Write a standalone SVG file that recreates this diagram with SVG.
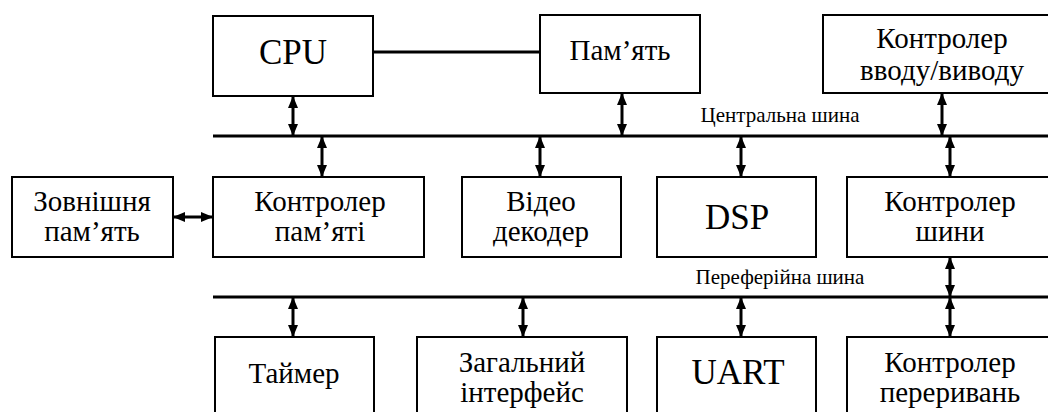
<svg xmlns="http://www.w3.org/2000/svg" width="1048" height="412" viewBox="0 0 1048 412">
<style>
.box{fill:#fff;stroke:#000;stroke-width:2}
.t{fill:#000;text-anchor:middle}
.bus{stroke:#000;stroke-width:3;fill:none}
.ar{stroke:#000;stroke-width:3;fill:none;marker-start:url(#ah);marker-end:url(#ah)}
</style>
<defs>
<marker id="ah" markerUnits="userSpaceOnUse" markerWidth="12" markerHeight="10" refX="11" refY="5" orient="auto-start-reverse" viewBox="0 0 12 10">
<path d="M0,0 L12,5 L0,10 z" fill="#000"/>
</marker>
</defs>
<g font-family="'Liberation Serif', 'Times New Roman', Tinos, 'DejaVu Serif', serif" font-size="29">
<g id="connectors">
<line class="bus" x1="373" y1="52" x2="540" y2="52"/>
<line class="bus" id="central-bus" x1="213" y1="136" x2="1048" y2="136"/>
<line class="bus" id="peripheral-bus" x1="213" y1="297" x2="1048" y2="297"/>
<line class="ar" x1="293" y1="97" x2="293" y2="135"/>
<line class="ar" x1="622" y1="94" x2="622" y2="135"/>
<line class="ar" x1="942" y1="94" x2="942" y2="135"/>
<line class="ar" x1="322" y1="137" x2="322" y2="176"/>
<line class="ar" x1="540" y1="137" x2="540" y2="176"/>
<line class="ar" x1="741" y1="137" x2="741" y2="176"/>
<line class="ar" x1="950" y1="137" x2="950" y2="176"/>
<line class="ar" x1="950" y1="258" x2="950" y2="296"/>
<line class="ar" x1="293" y1="298" x2="293" y2="336"/>
<line class="ar" x1="523" y1="298" x2="523" y2="336"/>
<line class="ar" x1="741" y1="298" x2="741" y2="336"/>
<line class="ar" x1="950" y1="298" x2="950" y2="336"/>
<line class="ar" x1="174" y1="217" x2="212" y2="217"/>
<text class="t" font-size="21" x="780" y="122">Центральна шина</text>
<text class="t" font-size="21" x="780" y="284">Переферійна шина</text>
</g>
<g id="cpu"><rect class="box" x="213" y="16" width="160" height="80"/><text class="t" font-size="35" x="293" y="64">CPU</text></g>
<g id="memory"><rect class="box" x="540" y="15" width="160" height="78"/><text class="t" x="620" y="60">Пам’ять</text></g>
<g id="io-controller"><rect class="box" x="823" y="15" width="240" height="78"/><text class="t" x="942" y="48">Контролер</text><text class="t" x="942" y="80">вводу/виводу</text></g>
<g id="external-memory"><rect class="box" x="12" y="177" width="161" height="80"/><text class="t" x="92" y="211">Зовнішня</text><text class="t" x="92" y="241">пам’ять</text></g>
<g id="memory-controller"><rect class="box" x="213" y="177" width="211" height="80"/><text class="t" x="320" y="211">Контролер</text><text class="t" x="320" y="241">пам’яті</text></g>
<g id="video-decoder"><rect class="box" x="462" y="177" width="159" height="80"/><text class="t" x="541" y="211">Відео</text><text class="t" x="541" y="241">декодер</text></g>
<g id="dsp"><rect class="box" x="657" y="177" width="159" height="80"/><text class="t" font-size="35" x="737" y="229">DSP</text></g>
<g id="bus-controller"><rect class="box" x="847" y="177" width="220" height="80"/><text class="t" x="950" y="211">Контролер</text><text class="t" x="950" y="241">шини</text></g>
<g id="timer"><rect class="box" x="215" y="337" width="159" height="90"/><text class="t" x="294" y="383">Таймер</text></g>
<g id="gpio"><rect class="box" x="417" y="337" width="210" height="90"/><text class="t" x="522" y="372">Загальний</text><text class="t" x="522" y="402">інтерфейс</text></g>
<g id="uart"><rect class="box" x="657" y="337" width="159" height="90"/><text class="t" font-size="35" x="738" y="384">UART</text></g>
<g id="interrupt-controller"><rect class="box" x="847" y="337" width="220" height="90"/><text class="t" x="950" y="372">Контролер</text><text class="t" x="950" y="402">переривань</text></g>
</g>
</svg>
